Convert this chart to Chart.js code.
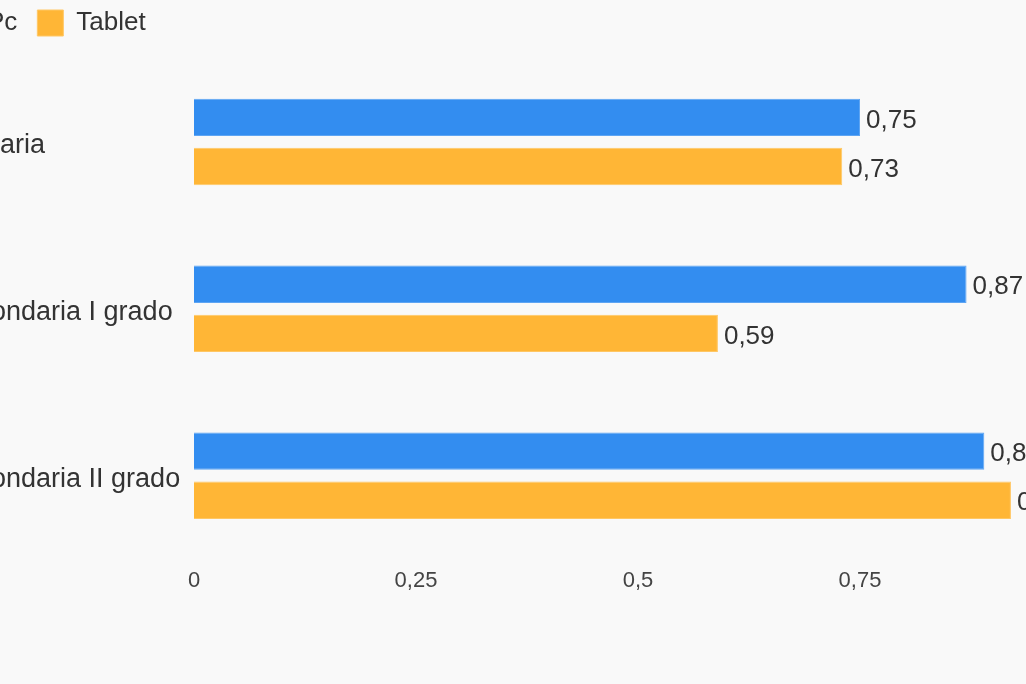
<!DOCTYPE html>
<html>
<head>
<meta charset="utf-8">
<script src="https://cdn.jsdelivr.net/npm/chart.js@4.4.1/dist/chart.umd.min.js"></script>
<style>
  html, body { margin: 0; padding: 0; background: #f9f9f9; overflow: hidden; }
  #wrap { position: absolute; left: -60px; top: 0; width: 1210px; height: 684px; }
</style>
</head>
<body>
<div id="wrap"><canvas id="barChart"></canvas></div>
<script>
// Datos del gráfico
var categorias = ['Primaria', 'Secondaria I grado', 'Secondaria II grado'];
var valoresPc = [0.75, 0.87, 0.89];
var valoresTablet = [0.73, 0.59, 0.92];
var serieNombres = ['Pc', 'Tablet'];
var ticksX = [0, 0.25, 0.5, 0.75, 1];

var fuente = "'Liberation Sans', Arial, sans-serif";

function formatoComa(v, dec) {
    var s = dec == null ? String(v) : v.toFixed(dec);
    return s.replace('.', ',');
}

// Etiquetas de valor al final de cada barra
var etiquetasValor = {
    id: 'etiquetasValor',
    afterDatasetsDraw: function(chart) {
        var ctx = chart.ctx;
        ctx.save();
        ctx.font = '26px ' + fuente;
        ctx.fillStyle = '#333333';
        ctx.textAlign = 'left';
        ctx.textBaseline = 'middle';
        chart.data.datasets.forEach(function(ds, i) {
            chart.getDatasetMeta(i).data.forEach(function(bar, j) {
                ctx.fillText(formatoComa(ds.data[j], 2), bar.x + 6, bar.y + 3);
            });
        });
        ctx.restore();
    }
};

// Mover la leyenda un poco a la izquierda y hacia arriba
var moverLeyenda = {
    id: 'moverLeyenda',
    afterLayout: function(chart) {
        if (chart.legend) {
            chart.legend.left -= 16.5;
            chart.legend.top -= 12.5;
        }
    }
};

var ctx = document.getElementById('barChart').getContext('2d');
window.myBarChart = new Chart(ctx, {
    type: 'bar',
    data: {
        labels: categorias,
        datasets: [{
            label: serieNombres[0],
            data: valoresPc,
            backgroundColor: '#338df0',
            borderColor: '#5ea5f3',
            borderWidth: 1
        }, {
            label: serieNombres[1],
            data: valoresTablet,
            backgroundColor: '#ffb636',
            borderColor: '#ffc764',
            borderWidth: 1
        }]
    },
    options: {
        indexAxis: 'y',
        responsive: true,
        maintainAspectRatio: false,
        animation: false,
        categoryPercentage: 0.589,
        barPercentage: 0.76,
        layout: {
            padding: { left: 4.5, right: 68, top: 2.5, bottom: 80.5 }
        },
        plugins: {
            legend: {
                position: 'top',
                align: 'start',
                labels: {
                    boxWidth: 26,
                    boxHeight: 26,
                    padding: 20,
                    color: '#333333',
                    font: { family: fuente, size: 26 }
                }
            },
            tooltip: { enabled: false }
        },
        scales: {
            x: {
                min: 0,
                max: 1,
                afterBuildTicks: function(scale) {
                    scale.ticks = ticksX.map(function(v) { return { value: v }; });
                },
                grid: { display: false, drawTicks: false },
                border: { display: false },
                ticks: {
                    padding: 9,
                    color: '#444444',
                    font: { family: fuente, size: 22 },
                    callback: function(v) { return formatoComa(v); }
                }
            },
            y: {
                afterFit: function(scale) { scale.width = 249.5; },
                grid: { display: false, drawTicks: false },
                border: { display: false },
                ticks: {
                    crossAlign: 'far',
                    labelOffset: 4,
                    color: '#333333',
                    font: { family: fuente, size: 27 }
                }
            }
        }
    },
    plugins: [etiquetasValor, moverLeyenda]
});
</script>
</body>
</html>
